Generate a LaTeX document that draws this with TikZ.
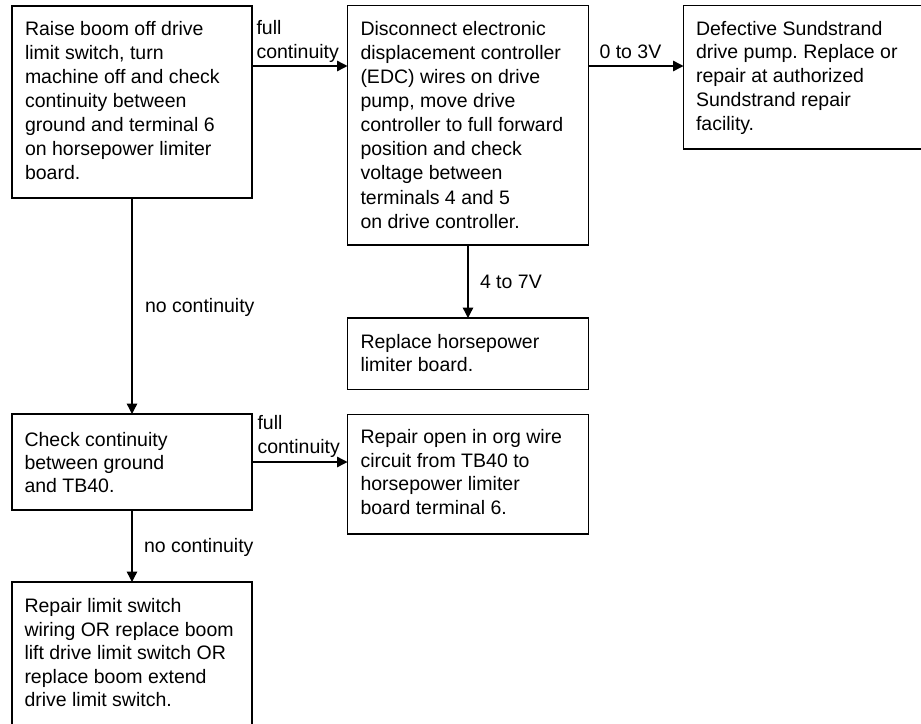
\documentclass[tikz,border=0pt]{standalone}
\usepackage{fontspec}
\setmainfont{Liberation Sans}
\frenchspacing
\usetikzlibrary{arrows.meta,calc}
\tikzset{
  box/.style={draw=black, line width=1.4pt, rectangle, inner sep=0pt, outer sep=0pt, anchor=north west},
  txt/.style={anchor=base west, inner sep=0pt, outer sep=0pt, align=left},
  lbl/.style={anchor=base west, inner sep=0pt, outer sep=0pt},
  arr/.style={line width=1.4pt, -{Triangle[length=10.5pt,width=10.5pt]}}
}
\newcommand{\tx}[2]{\fontsize{19.5pt}{#1}\selectfont\frenchspacing\parbox[t]{260pt}{#2}}
\begin{document}
\begin{tikzpicture}[x=1pt,y=-1pt]
\useasboundingbox (0,0) rectangle (921,723);
\clip (0,0) rectangle (921,723);
% boxes
\node[box, minimum width=240pt, minimum height=192pt] (A) at (12,6) {};
\node[box, minimum width=241pt, minimum height=239.5pt] (B) at (347.5,5.5) {};
\node[box, minimum width=290pt, minimum height=143.5pt] (C) at (683.5,5.5) {};
\node[box, minimum width=241pt, minimum height=71.5pt] (D) at (347.5,318) {};
\node[box, minimum width=240pt, minimum height=96pt] (E) at (12,414) {};
\node[box, minimum width=241pt, minimum height=119.5pt] (F) at (347.5,414.5) {};
\node[box, minimum width=240pt, minimum height=200pt] (G) at (12,582) {};
% texts
\node[txt] (tA) at (25,35) {\tx{24.15pt}{Raise boom off drive\\limit switch, turn\\machine off and check\\continuity between\\ground and terminal 6\\on horsepower limiter\\board.}};
\node[txt] (tB) at (360.5,35) {\tx{24.15pt}{Disconnect electronic\\displacement controller\\(EDC) wires on drive\\pump, move drive\\controller to full forward\\position and check\\voltage between\\terminals 4 and 5\\on drive controller.}};
\node[txt] (tC) at (696,35) {\tx{23.9pt}{Defective Sundstrand\\drive pump. Replace or\\repair at authorized\\Sundstrand repair\\facility.}};
\node[txt] (tD) at (360.5,348.3) {\tx{23pt}{Replace horsepower\\limiter board.}};
\node[txt] (tE) at (24.5,446) {\tx{23.3pt}{Check continuity\\between ground\\and TB40.}};
\node[txt] (tF) at (360.5,443.5) {\tx{23.6pt}{Repair open in org wire\\circuit from TB40 to\\horsepower limiter\\board terminal 6.}};
\node[txt] (tG) at (24.5,612.7) {\tx{23.5pt}{Repair limit switch\\wiring OR replace boom\\lift drive limit switch OR\\replace boom extend\\drive limit switch.}};
% connectors
\draw[arr] ($(A.north east)+(0,60)$) -- ($(B.north west)+(0,60.5)$);
\draw[arr] ($(B.north east)+(0,60.5)$) -- ($(C.north west)+(0,60.5)$);
\draw[arr] (A.south) -- (E.north);
\draw[arr] (B.south) -- (D.north);
\draw[arr] (E.east) -- (E.east -| F.west);
\draw[arr] (E.south) -- (G.north);
% labels
\node[lbl] (l1) at (256.5,34) {\tx{24pt}{full\\continuity}};
\node[lbl] (l2) at (599.5,58.3) {\fontsize{19.5pt}{24pt}\selectfont 0 to 3V};
\node[lbl] (l3) at (480,288.3) {\fontsize{19.5pt}{24pt}\selectfont 4 to 7V};
\node[lbl] (l4) at (145,312) {\fontsize{19.5pt}{24pt}\selectfont no continuity};
\node[lbl] (l5) at (257.5,429) {\tx{24.5pt}{full\\continuity}};
\node[lbl] (l6) at (144,552) {\fontsize{19.5pt}{24pt}\selectfont no continuity};
\end{tikzpicture}
\end{document}
